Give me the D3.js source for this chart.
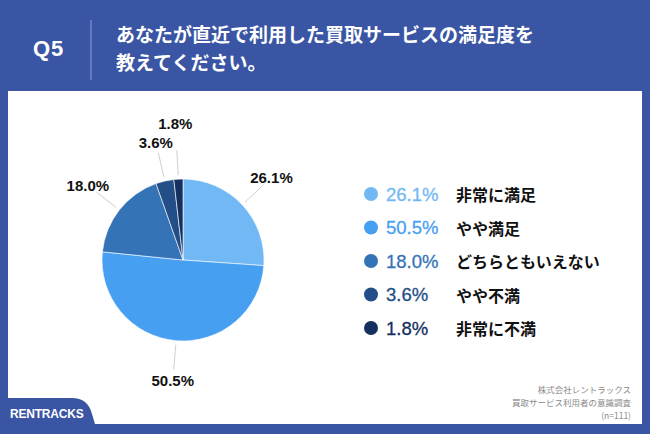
<!DOCTYPE html>
<html>
<head>
<meta charset="utf-8">
<script src="https://cdn.jsdelivr.net/npm/d3@7"></script>
<style>
  body { margin: 0; padding: 0; background: #3a55a3; }
  svg { display: block; }
</style>
</head>
<body>
<script>
// survey result data
var categories = ["非常に満足", "やや満足", "どちらともいえない", "やや不満", "非常に不満"];
var values = [26.1, 50.5, 18.0, 3.6, 1.8];
var colors = ["#72b8f5", "#479ff2", "#3573b7", "#244e87", "#15305e"];
var titleLines = ["あなたが直近で利用した買取サービスの満足度を", "教えてください。"];
var sourceLines = ["株式会社レントラックス", "買取サービス利用者の意識調査", "(n=111)"];

var W = 650, H = 434;
var jp = "'Noto Sans CJK JP', 'Noto Sans', sans-serif";
var num = "'Liberation Sans', Arial, sans-serif";

var svg = d3.select("body").append("svg")
    .attr("width", W)
    .attr("height", H);

// background + white panel
svg.append("rect")
    .attr("width", W).attr("height", H)
    .attr("fill", "#3a55a3");

svg.append("rect")
    .attr("x", 8).attr("y", 91)
    .attr("width", 634).attr("height", 333)
    .attr("fill", "#ffffff");

// header
svg.append("text")
    .attr("x", 33).attr("y", 48)
    .attr("dominant-baseline", "central")
    .attr("font-family", num)
    .attr("font-weight", "bold")
    .attr("font-size", "22px")
    .attr("letter-spacing", "0.8")
    .attr("fill", "#fff")
    .text("Q5");

svg.append("line")
    .attr("x1", 91).attr("x2", 91)
    .attr("y1", 20).attr("y2", 80)
    .attr("stroke", "#8d9fd3")
    .attr("stroke-width", 1);

titleLines.forEach((t, i) => {
    svg.append("text")
        .attr("x", 116).attr("y", 33 + i * 28)
        .attr("dominant-baseline", "central")
        .attr("font-family", jp)
        .attr("font-weight", "bold")
        .attr("font-size", "19px")
        .attr("fill", "#fff")
        .text(t);
});

// pie
var cx = 183, cy = 260, r = 81;

var pie = d3.pie().sort(null).value(d => d);
var arcs = pie(values);
var arc = d3.arc().innerRadius(0).outerRadius(r);

var g = svg.append("g")
    .attr("transform", "translate(" + cx + "," + cy + ")");

g.selectAll("path")
    .data(arcs)
    .enter()
    .append("path")
    .attr("d", arc)
    .attr("fill", (d, i) => colors[i])
    .attr("stroke", "#fff")
    .attr("stroke-width", 0.6);

function polar(a, rad) {
    return [Math.sin(a) * rad, -Math.cos(a) * rad];
}

// label radius, pushed outward when labels crowd together
var labelPos = [];
arcs.forEach((d, i) => {
    var mid = (d.startAngle + d.endAngle) / 2;
    var lr = 121;
    var p = polar(mid, lr);
    while (labelPos.some(q => Math.abs(q[0] - p[0]) < 40 && Math.abs(q[1] - p[1]) < 18)) {
        lr += 2;
        p = polar(mid, lr);
    }
    labelPos.push(p);
    d.mid = mid;
    d.label = p;
});

g.selectAll(".leader")
    .data(arcs)
    .enter()
    .append("line")
    .attr("class", "leader")
    .attr("x1", d => polar(d.mid, r + 4)[0])
    .attr("y1", d => polar(d.mid, r + 4)[1])
    .attr("x2", d => polar(d.mid, r + 29)[0])
    .attr("y2", d => polar(d.mid, r + 29)[1])
    .attr("stroke", "#cfcfcf")
    .attr("stroke-width", 1);

g.selectAll(".plabel")
    .data(arcs)
    .enter()
    .append("text")
    .attr("class", "plabel")
    .attr("x", d => d.label[0])
    .attr("y", d => d.label[1])
    .attr("text-anchor", "middle")
    .attr("dominant-baseline", "central")
    .attr("font-family", num)
    .attr("font-weight", "bold")
    .attr("font-size", "15px")
    .attr("fill", "#111")
    .text(d => d.data.toFixed(1) + "%");

// legend
var legendY = d3.scalePoint()
    .domain(categories)
    .range([194, 328]);

var legend = svg.append("g");

categories.forEach((c, i) => {
    var y = legendY(c);
    legend.append("circle")
        .attr("cx", 371).attr("cy", y)
        .attr("r", 7)
        .attr("fill", colors[i]);

    legend.append("text")
        .attr("x", 386).attr("y", y)
        .attr("dominant-baseline", "central")
        .attr("font-family", num)
        .attr("font-size", "18.5px")
        .attr("fill", colors[i])
        .attr("stroke", colors[i])
        .attr("stroke-width", 0.3)
        .text(values[i].toFixed(1) + "%");

    legend.append("text")
        .attr("x", 456).attr("y", y)
        .attr("dominant-baseline", "central")
        .attr("font-family", jp)
        .attr("font-weight", "bold")
        .attr("font-size", "16px")
        .attr("fill", "#111")
        .text(c);
});

// source note
sourceLines.forEach((t, i) => {
    svg.append("text")
        .attr("x", 631).attr("y", 389 + i * 13)
        .attr("text-anchor", "end")
        .attr("dominant-baseline", "central")
        .attr("font-family", jp)
        .attr("font-size", "8.5px")
        .attr("fill", "#8a8a8a")
        .text(t);
});

// bottom-left tab
svg.append("path")
    .attr("d", "M0,398 L72,398 Q88,398 92,414 L95,424 L0,424 Z")
    .attr("fill", "#3a55a3");

svg.append("text")
    .attr("x", 10).attr("y", 414)
    .attr("dominant-baseline", "central")
    .attr("font-family", num)
    .attr("font-weight", "bold")
    .attr("font-size", "12px")
    .attr("letter-spacing", "-0.2")
    .attr("fill", "#fff")
    .text("RENTRACKS");
</script>
</body>
</html>
